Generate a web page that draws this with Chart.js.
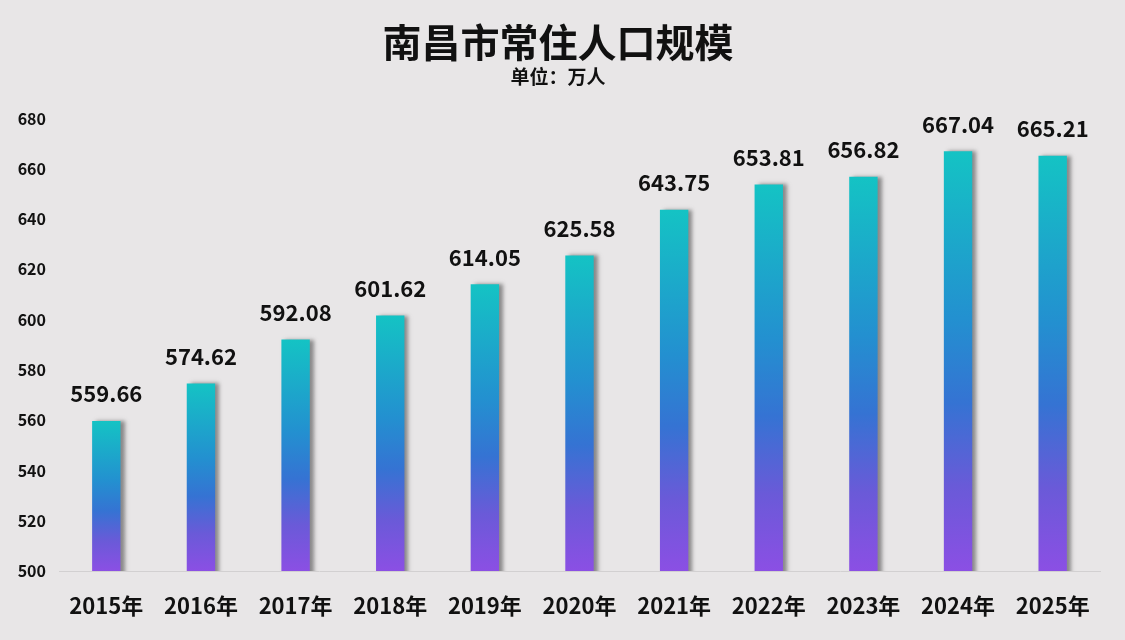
<!DOCTYPE html>
<html>
<head>
<meta charset="utf-8">
<script src="https://cdn.jsdelivr.net/npm/chart.js@4.4.1/dist/chart.umd.min.js"></script>
<style>
    html, body { margin: 0; padding: 0; background: #e8e6e7; }
    #wrap { width: 1125px; height: 640px; }
</style>
</head>
<body>
<div id="wrap"><canvas id="popChart" width="1125" height="640"></canvas></div>
<script>
const years = ["2015年", "2016年", "2017年", "2018年", "2019年", "2020年",
    "2021年", "2022年", "2023年", "2024年", "2025年"];
const population = [559.66, 574.62, 592.08, 601.62, 614.05, 625.58,
    643.75, 653.81, 656.82, 667.04, 665.21];
const yMin = 500;
const yMax = 680;
const yStep = 20;

const FONT = "'Noto Sans CJK SC', 'Open Sans', sans-serif";

function barGradient(c) {
    const chart = c.chart;
    if (!chart.chartArea || c.raw === undefined) return "#2a86d2";
    const y = chart.scales.y;
    const top = y.getPixelForValue(c.raw);
    const bottom = y.getPixelForValue(yMin);
    const g = chart.ctx.createLinearGradient(0, top, 0, bottom);
    g.addColorStop(0, "#14c3c4");
    g.addColorStop(0.4, "#2390d0");
    g.addColorStop(0.6, "#3573d3");
    g.addColorStop(0.8, "#6a5ad8");
    g.addColorStop(1, "#8b4fe4");
    return g;
}

// soft shadow on the right of each bar
const barShadow = {
    id: "barShadow",
    beforeDatasetDraw(chart) {
        const ctx = chart.ctx;
        ctx.save();
        ctx.shadowColor = "rgba(60,60,60,0.55)";
        ctx.shadowBlur = 4;
        ctx.shadowOffsetX = 4;
        ctx.shadowOffsetY = 0;
    },
    afterDatasetDraw(chart) {
        chart.ctx.restore();
    }
};

// value on top of each bar
const valueLabels = {
    id: "valueLabels",
    afterDatasetsDraw(chart) {
        const ctx = chart.ctx;
        const meta = chart.getDatasetMeta(0);
        ctx.save();
        ctx.fillStyle = "#111";
        ctx.font = "bold 22px " + FONT;
        ctx.textAlign = "center";
        ctx.textBaseline = "bottom";
        meta.data.forEach((bar, i) => {
            ctx.fillText(population[i].toFixed(2), bar.x, bar.y - 16);
        });
        ctx.restore();
    }
};

new Chart(document.getElementById("popChart"), {
    type: "bar",
    data: {
        labels: years,
        datasets: [{
            data: population,
            backgroundColor: barGradient,
            borderWidth: 0,
            barPercentage: 0.6,
            categoryPercentage: 0.5
        }]
    },
    options: {
        responsive: false,
        animation: false,
        layout: { padding: { left: 16, right: 25, top: 0, bottom: 0 } },
        plugins: {
            legend: { display: false },
            tooltip: { enabled: false },
            title: {
                display: true,
                text: "南昌市常住人口规模",
                color: "#111",
                font: { family: FONT, size: 39, weight: "bold", lineHeight: 1.2 },
                padding: { top: 19, bottom: 0 }
            },
            subtitle: {
                display: true,
                text: "单位：万人",
                color: "#111",
                font: { family: FONT, size: 19, weight: "bold", lineHeight: 1.2 },
                padding: { top: 0, bottom: 30 }
            }
        },
        scales: {
            x: {
                grid: { display: false, drawTicks: false },
                border: { display: true, color: "#d2d0d1", width: 1 },
                ticks: {
                    color: "#111",
                    padding: 21,
                    font: { family: FONT, size: 22, weight: "bold" }
                },
                afterFit(scale) { scale.height = 69; }
            },
            y: {
                min: yMin,
                max: yMax,
                grid: { display: false, drawTicks: false },
                border: { display: false },
                ticks: {
                    stepSize: yStep,
                    color: "#111",
                    padding: 13,
                    font: { family: FONT, size: 16, weight: "bold" }
                },
                afterFit(scale) { scale.width = 43; }
            }
        }
    },
    plugins: [barShadow, valueLabels]
});
</script>
</body>
</html>
